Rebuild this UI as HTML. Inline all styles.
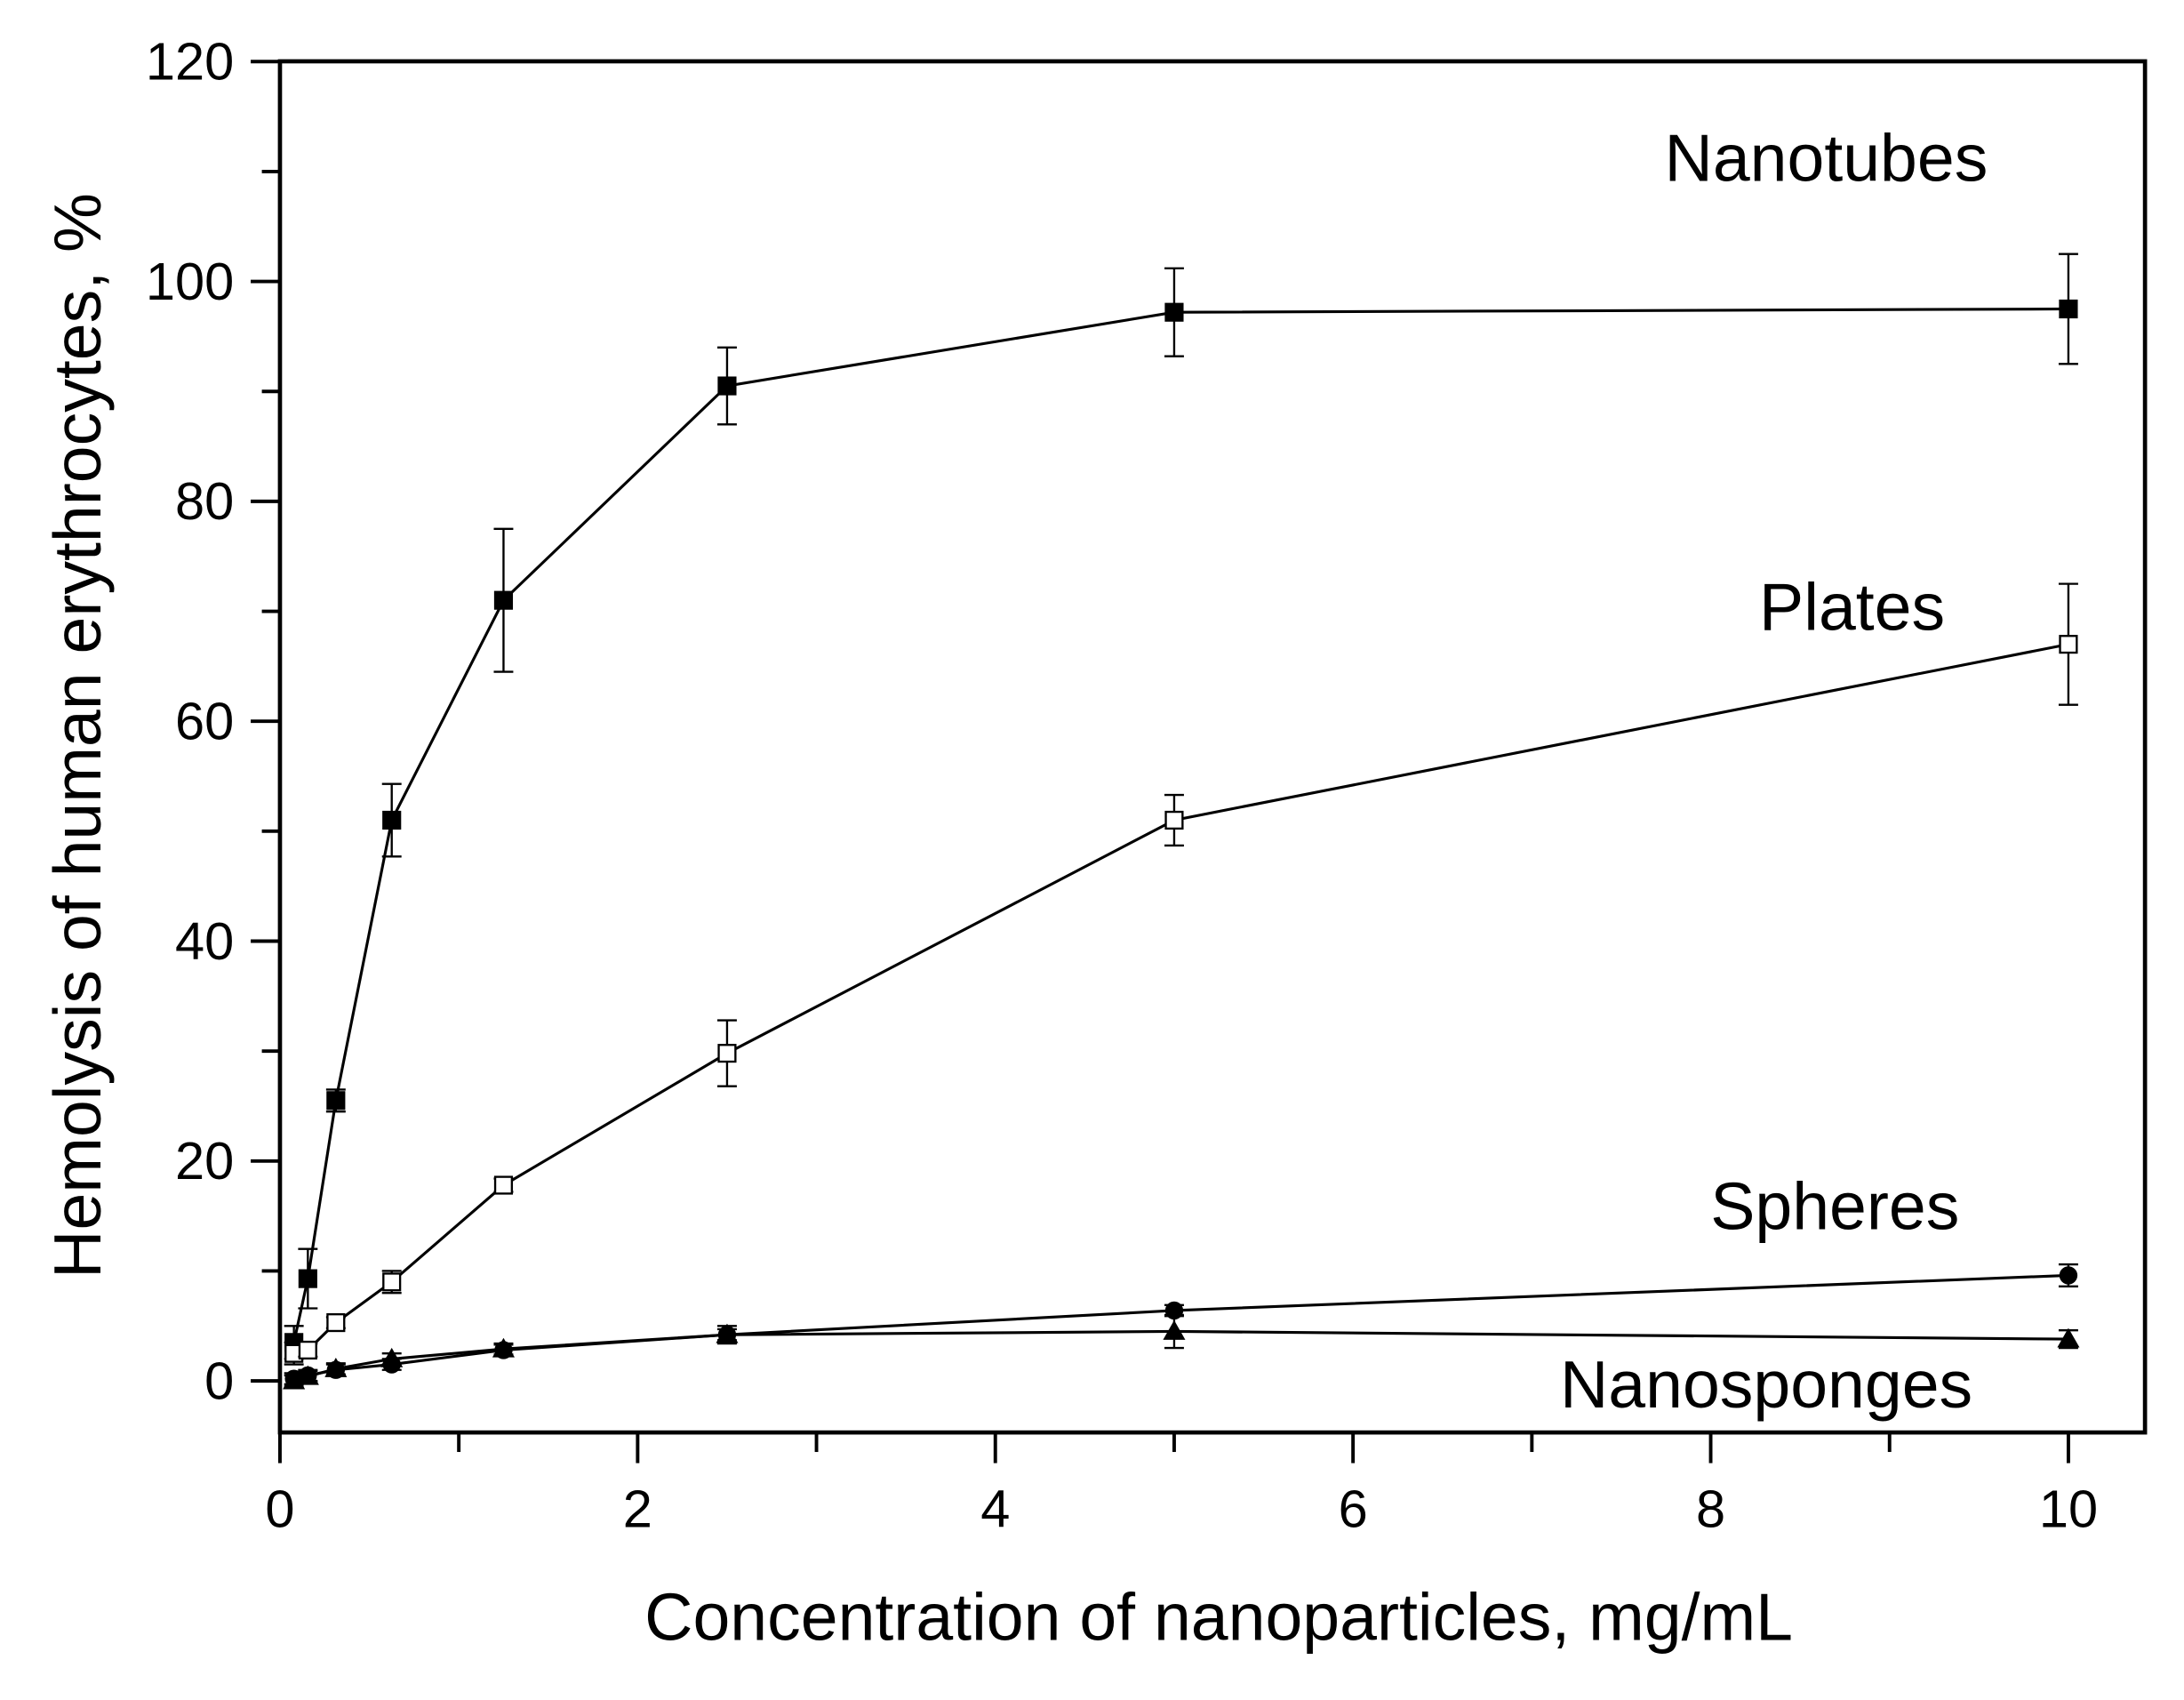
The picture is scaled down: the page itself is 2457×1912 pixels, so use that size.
<!DOCTYPE html>
<html><head><meta charset="utf-8"><style>html,body{margin:0;padding:0;background:#fff}svg{display:block}</style></head>
<body>
<svg id="s" width="2457" height="1912" viewBox="0 0 1568 1220" preserveAspectRatio="none" xmlns="http://www.w3.org/2000/svg" font-family="Liberation Sans, sans-serif">
<rect x="0" y="0" width="1568" height="1220" fill="#fff"/>
<rect x="201" y="44" width="1339" height="984" fill="none" stroke="#000" stroke-width="3"/>
<g id="ax" stroke="#000" stroke-width="2.5"></g>
<g id="tl" font-size="38" fill="#000"></g>
<g id="data"></g>
<text x="875" y="1177" font-size="48" text-anchor="middle">Concentration of nanoparticles, mg/mL</text>
<text transform="translate(72,528) rotate(-90)" font-size="48" text-anchor="middle">Hemolysis of human erythrocytes, %</text>
<text x="1195" y="130" font-size="48">Nanotubes</text>
<text x="1263" y="452" font-size="48">Plates</text>
<text x="1228" y="882" font-size="48">Spheres</text>
<text x="1120" y="1010" font-size="48">Nanosponges</text>
</svg>
<script>
const NS="http://www.w3.org/2000/svg";
const X=v=>201+v*128.4, Y=v=>991-v*7.89;
function el(p,t,a,txt){const e=document.createElementNS(NS,t);for(const k in a)e.setAttribute(k,a[k]);if(txt!=null)e.textContent=txt;document.getElementById(p).appendChild(e);return e;}
for(let i=0;i<=10;i++){const x=X(i);el('ax','line',{x1:x,y1:1028,x2:x,y2:i%2?1042:1050});if(i%2==0)el('tl','text',{x:x,y:1096,'text-anchor':'middle'},i);}
for(let v=0;v<=120;v+=10){const y=Y(v);const maj=v%20==0;el('ax','line',{x1:maj?180:188,y1:y,x2:201,y2:y});if(maj)el('tl','text',{x:168,y:y+13,'text-anchor':'end'},v);}
const xs=[0.078,0.156,0.3125,0.625,1.25,2.5,5,10];
const S=[
 {y:[3.5,9.3,25.5,51,71,90.5,97.2,97.5],e:[1.5,2.7,1,3.3,6.5,3.5,4,5],m:'sq',f:'#000'},
 {y:[2.5,2.8,5.3,9,17.8,29.8,51,67],e:[1,0.6,0.5,1,0.6,3,2.3,5.5],m:'sq',f:'#fff'},
 {y:[0.2,0.5,1,1.5,2.8,4.2,6.4,9.6],e:[0.5,0.5,0.5,0.5,0.5,0.5,0.5,1],m:'ci',f:'#000'},
 {y:[0,0.4,1.1,2,2.9,4.2,4.5,3.8],e:[0.5,0.5,0.5,0.5,0.5,0.8,1.5,0.8],m:'tr',f:'#000'}];
for(const s of S){
 el('data','polyline',{points:xs.map((x,i)=>X(x)+','+Y(s.y[i])).join(' '),fill:'none',stroke:'#000','stroke-width':2});
 xs.forEach((x,i)=>{const cx=X(x),cy=Y(s.y[i]),t=Y(s.y[i]+s.e[i]),b=Y(s.y[i]-s.e[i]);
  el('data','path',{d:`M${cx},${t}V${b}M${cx-7},${t}H${cx+7}M${cx-7},${b}H${cx+7}`,stroke:'#000','stroke-width':1.5,fill:'none'});
  if(s.m=='sq')el('data','rect',{x:cx-6,y:cy-6,width:12,height:12,fill:s.f,stroke:'#000','stroke-width':1.5});
  else if(s.m=='ci')el('data','circle',{cx:cx,cy:cy,r:6.5,fill:'#000'});
  else el('data','path',{d:`M${cx},${cy-8}L${cx+8},${cy+6}L${cx-8},${cy+6}Z`,fill:'#000'});
 });
}
</script>
</body></html>
